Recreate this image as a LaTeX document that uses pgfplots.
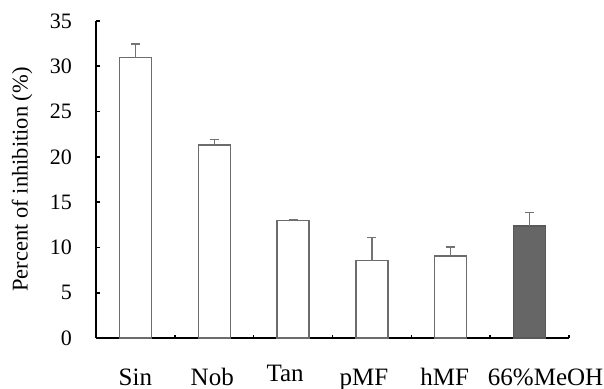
\documentclass[border=0pt]{standalone}
\usepackage{fontspec}
\setmainfont{Liberation Serif}
\usepackage{pgfplots}
\pgfplotsset{compat=1.18}
\begin{document}
\begin{tikzpicture}
\begin{axis}[
  at={(0,0)}, anchor=origin,
  scale only axis, width=473bp, height=317bp,
  xmin=0, xmax=6, ymin=0, ymax=35,
  clip=false,
  axis x line=bottom, axis y line=left,
  x axis line style={-, line width=2bp, black},
  y axis line style={-, line width=2.6bp, black},
  ytick={0,5,...,35},
  ytick style={line width=1.6bp, black},
  major tick length=4bp,
  tick align=inside,
  xtick={0.5,1.5,2.5,3.5,4.5,5.5},
  xticklabels={Sin,\hspace*{-4bp}Nob,\hspace*{-16bp}\raisebox{3.5bp}{Tan},\hspace*{-16bp}pMF,\hspace*{-12bp}hMF,\hspace*{32bp}66\%MeOH},
  xtick style={draw=none},
  extra x ticks={1,2,3,4,5,6},
  extra x tick labels={},
  extra x tick style={xtick style={draw=black, line width=1.5bp}, major tick length=3bp},
  /pgf/number format/assume math mode=true,
  yticklabel style={font=\fontsize{22bp}{24bp}\selectfont, anchor=east, inner sep=0pt, xshift=-24bp},
  xticklabel style={font=\fontsize{25bp}{27bp}\selectfont, anchor=base, inner sep=0pt, yshift=-47bp},
  ylabel={Percent of inhibition (\%)},
  ylabel style={font=\fontsize{22.5bp}{24bp}\selectfont, at={(axis description cs:-0.156,0.5)}, anchor=center, rotate=0},
  error bars/error bar style={gray!90!black, line width=1.4bp},
  error bars/error mark options={rotate=90, mark size=4.5bp, line width=1.4bp, gray!90!black},
]
\addplot[ybar, bar width=32bp, bar shift=0pt, fill=white, draw=gray!85!black, line width=1.3bp,
  error bars/.cd, y dir=plus, y explicit]
coordinates {
  (0.5,30.94) +- (0,1.51)
  (1.5,21.30) +- (0,0.63)
  (2.5,12.95) +- (0,0.12)
  (3.5,8.53) +- (0,2.57)
  (4.5,9.05) +- (0,1.00)
};
\addplot[ybar, bar width=32bp, bar shift=0pt, fill=black!60, draw=gray!70!black, line width=1.3bp,
  error bars/.cd, y dir=plus, y explicit]
coordinates {
  (5.5,12.36) +- (0,1.47)
};
\end{axis}
\pgfresetboundingbox
\path (-96bp,-51bp) rectangle (508bp,338bp);
\end{tikzpicture}
\end{document}
